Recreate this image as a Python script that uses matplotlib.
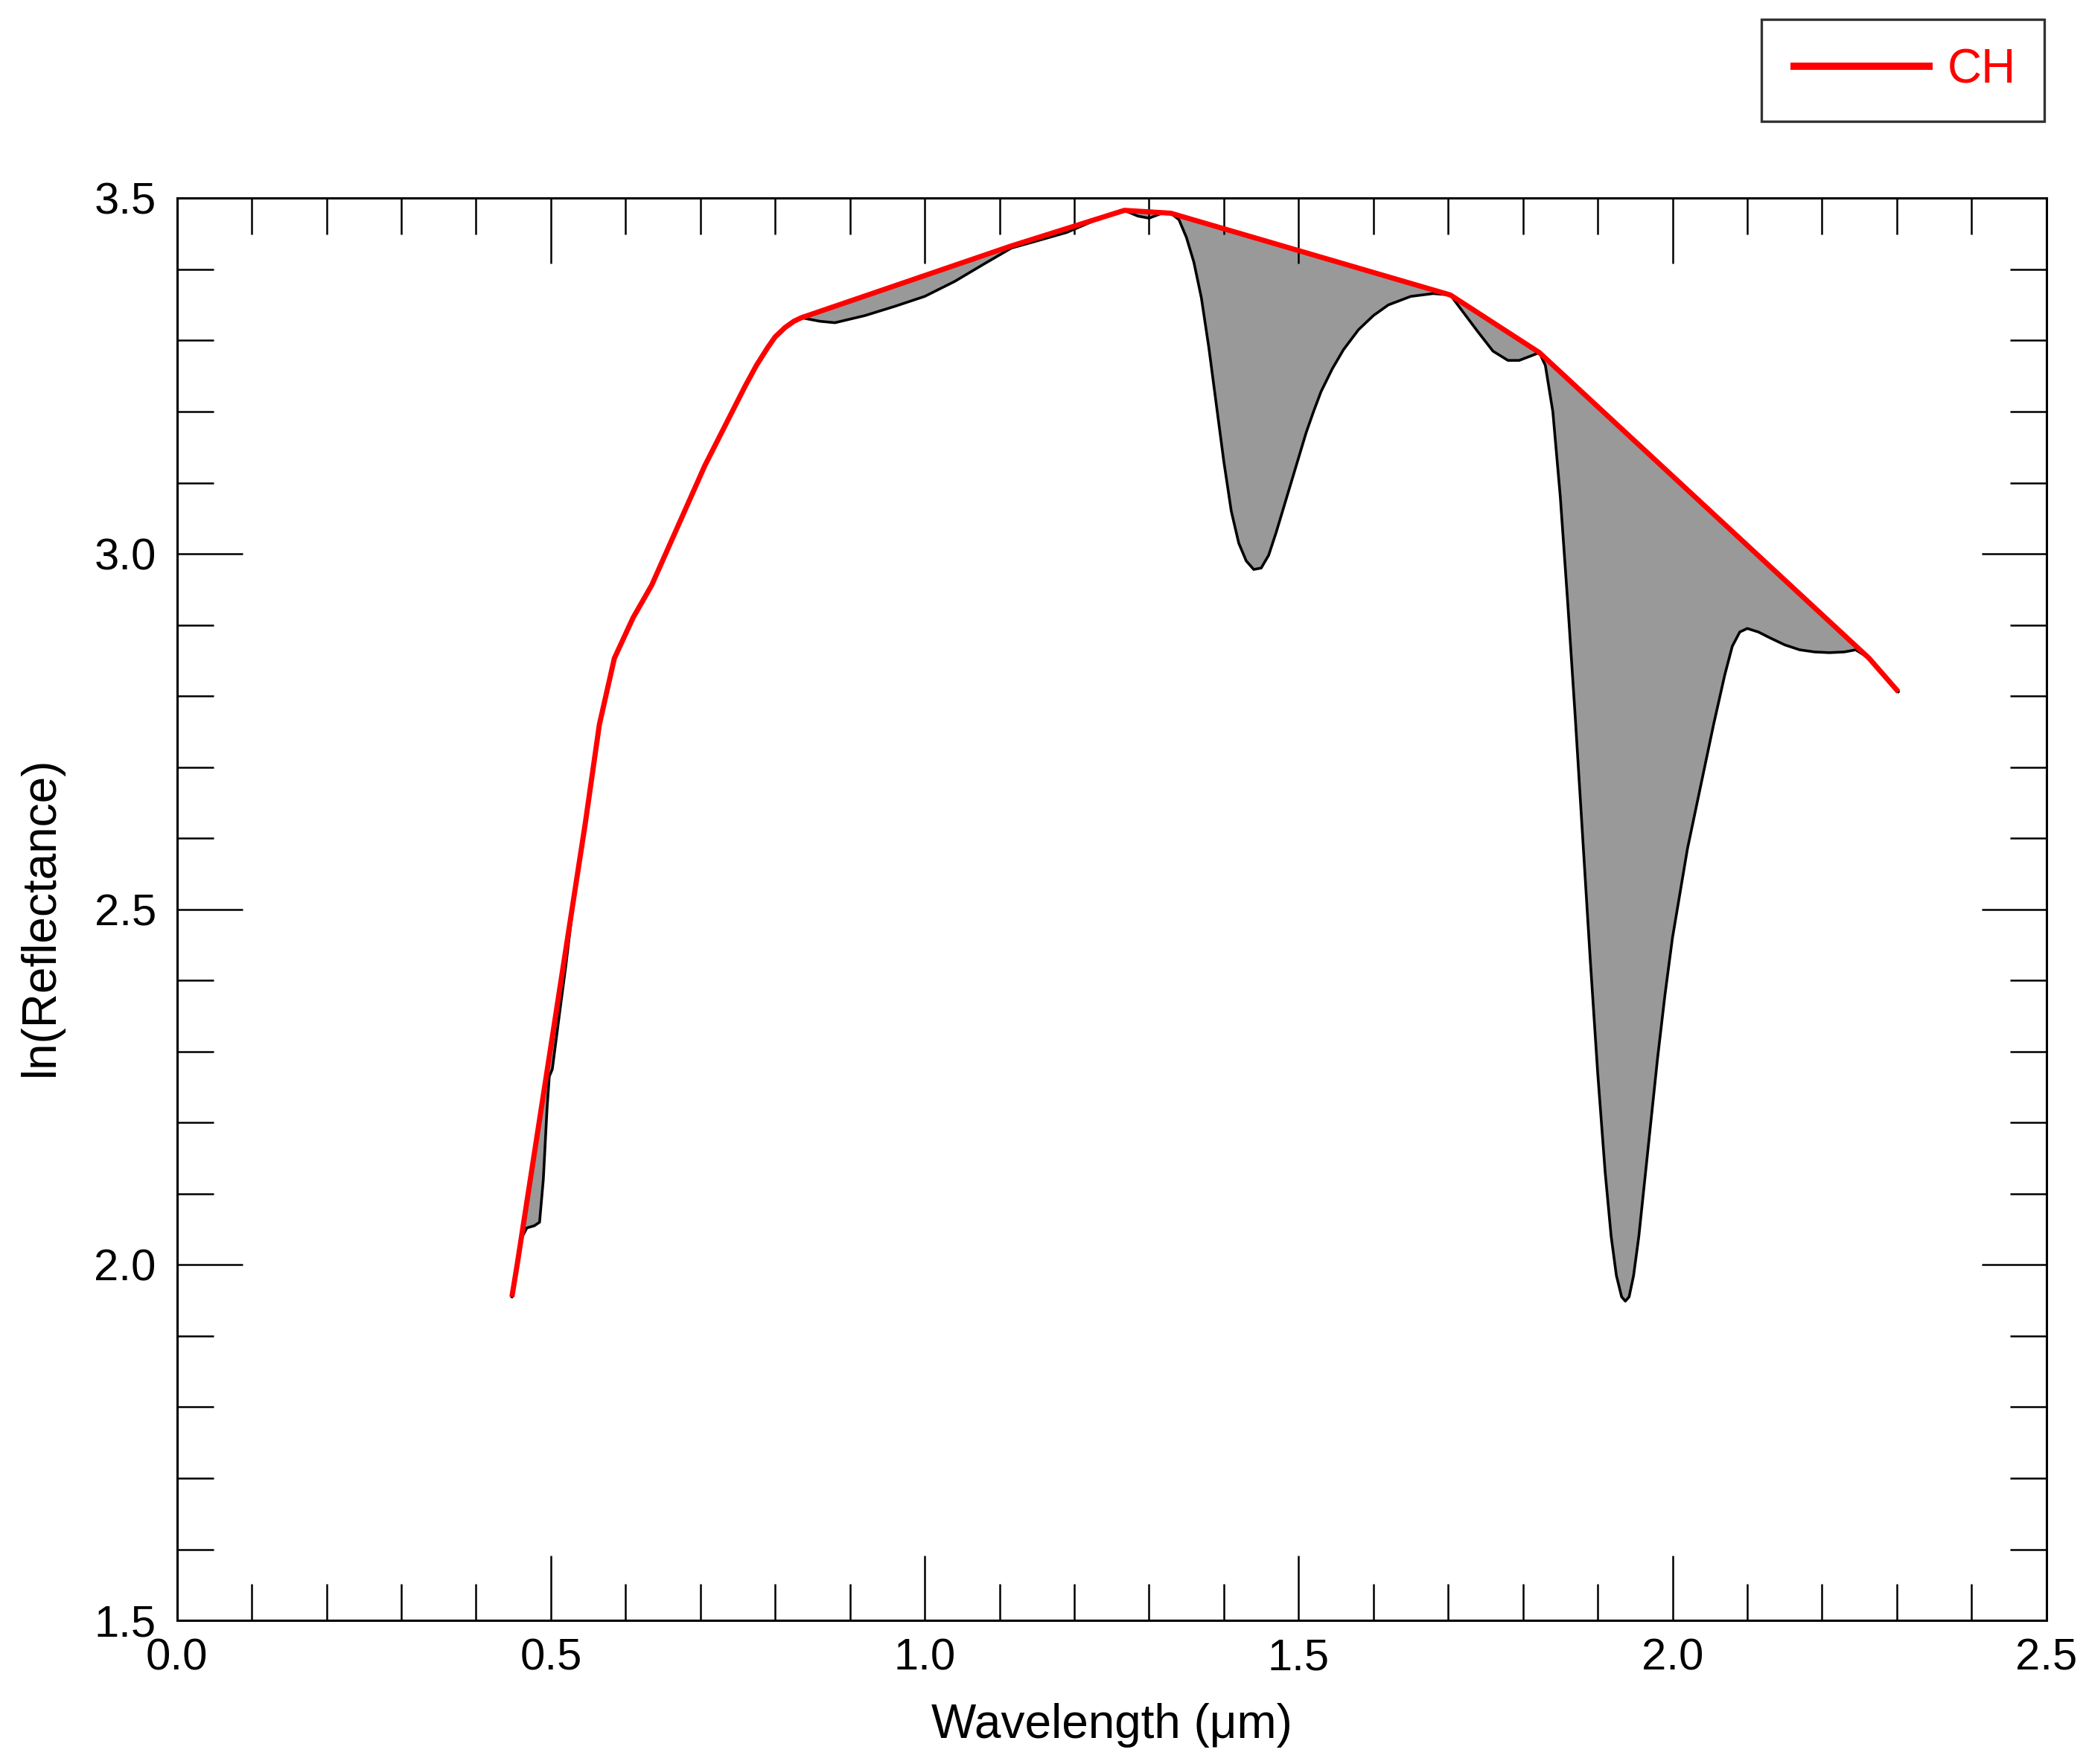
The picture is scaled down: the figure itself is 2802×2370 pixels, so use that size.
import matplotlib.pyplot as plt
import numpy as np

plt.rcParams['font.family'] = ['Liberation Sans', 'DejaVu Sans']

# continuum hull vertices (wavelength in um, ln reflectance)
hull_x = [0.448, 0.455, 0.546, 0.565, 0.585, 0.61, 0.635, 0.706, 0.76, 0.775,
          0.79, 0.80, 0.813, 0.825, 0.835, 1.116, 1.267, 1.329, 1.703, 1.822,
          2.263, 2.302]
hull_y = [1.955, 2.0, 2.62, 2.76, 2.853, 2.91, 2.956, 3.124, 3.236, 3.265,
          3.29, 3.305, 3.318, 3.327, 3.332, 3.433, 3.483, 3.479, 3.364, 3.283,
          2.853, 2.806]

# spectrum
spec_x = [0.448, 0.455, 0.462, 0.468, 0.478, 0.485, 0.49, 0.495, 0.498, 0.502,
          0.51, 0.52, 0.535, 0.546, 0.565, 0.585, 0.61, 0.635, 0.706, 0.76,
          0.775, 0.79, 0.80, 0.813, 0.825, 0.835, 0.86, 0.88, 0.92, 0.96,
          1.0, 1.04, 1.08, 1.116, 1.15, 1.19, 1.23, 1.267, 1.285, 1.30,
          1.315, 1.329, 1.34, 1.35, 1.36, 1.37, 1.38, 1.39, 1.40, 1.41,
          1.42, 1.43, 1.44, 1.45, 1.46, 1.47, 1.48, 1.49, 1.50, 1.51,
          1.52, 1.53, 1.545, 1.56, 1.58, 1.60, 1.62, 1.65, 1.68, 1.703,
          1.72, 1.74, 1.76, 1.78, 1.795, 1.81, 1.822, 1.83, 1.84, 1.85,
          1.86, 1.87, 1.88, 1.89, 1.90, 1.91, 1.918, 1.925, 1.932, 1.937,
          1.942, 1.948, 1.955, 1.962, 1.97, 1.98, 1.99, 2.0, 2.02, 2.04,
          2.055, 2.07, 2.08, 2.09, 2.10, 2.115, 2.13, 2.15, 2.17, 2.19,
          2.21, 2.23, 2.245, 2.263, 2.302]
spec_y = [1.955, 2.0, 2.04, 2.052, 2.055, 2.06, 2.12, 2.22, 2.265, 2.275,
          2.34, 2.42, 2.55, 2.62, 2.76, 2.853, 2.91, 2.956, 3.124, 3.236,
          3.265, 3.29, 3.305, 3.318, 3.327, 3.332, 3.327, 3.325, 3.335, 3.348,
          3.362, 3.383, 3.408, 3.43, 3.44, 3.452, 3.47, 3.483, 3.475, 3.472,
          3.478, 3.479, 3.47, 3.445, 3.41, 3.36, 3.29, 3.21, 3.13, 3.06,
          3.015, 2.99, 2.978, 2.98, 2.998, 3.03, 3.065, 3.10, 3.135, 3.17,
          3.2, 3.228, 3.26, 3.287, 3.315, 3.335, 3.35, 3.362, 3.366, 3.364,
          3.34, 3.312, 3.285, 3.272, 3.272, 3.278, 3.283, 3.265, 3.2, 3.08,
          2.93, 2.77, 2.6, 2.43, 2.27, 2.13, 2.04, 1.985, 1.955, 1.949,
          1.955, 1.985, 2.04, 2.11, 2.19, 2.29, 2.38, 2.46, 2.585, 2.685,
          2.76, 2.83, 2.87, 2.89, 2.895, 2.89, 2.882, 2.872, 2.865, 2.862,
          2.861, 2.862, 2.865, 2.853, 2.806]

fig = plt.figure(figsize=(28.02, 23.70), dpi=100)
ax = fig.add_axes([0.0848, 0.0814, 0.981 - 0.0848, 0.8876 - 0.0814])

# gray area between hull and spectrum
poly_x = np.concatenate([hull_x, spec_x[::-1]])
poly_y = np.concatenate([hull_y, spec_y[::-1]])
ax.fill(poly_x, poly_y, color='#999999', lw=0)

ax.plot(spec_x, spec_y, color='black', lw=2.6)
ax.plot(hull_x, hull_y, color='red', lw=5, label='CH', solid_capstyle='butt')

ax.set_xlim(0, 2.5)
ax.set_ylim(1.5, 3.5)
ax.set_xticks(np.arange(0, 2.51, 0.5))
ax.set_yticks(np.arange(1.5, 3.51, 0.5))
ax.set_xticks(np.arange(0, 2.51, 0.1), minor=True)
ax.set_yticks(np.arange(1.5, 3.51, 0.1), minor=True)
ax.xaxis.set_major_formatter(plt.FormatStrFormatter('%.1f'))
ax.yaxis.set_major_formatter(plt.FormatStrFormatter('%.1f'))
ax.tick_params(which='both', direction='in', top=True, right=True, width=1.8)
ax.tick_params(which='major', length=63, labelsize=43)
ax.tick_params(axis='x', which='major', pad=17)
ax.tick_params(axis='y', which='major', pad=20)
ax.tick_params(which='minor', length=35)
for s in ax.spines.values():
    s.set_linewidth(2.2)

ax.set_xlabel('Wavelength (\u03bcm)', fontsize=46)
ax.set_ylabel('ln(Reflectance)', fontsize=46)
ax.xaxis.set_label_coords(0.5, -0.058)
ax.yaxis.set_label_coords(-0.061, 0.495)

leg = fig.legend(loc='upper right', bbox_to_anchor=(0.980, 0.989), fontsize=46,
                 frameon=True, fancybox=False, edgecolor='black', labelcolor='red',
                 handlelength=3.0, handletextpad=0.3, borderpad=0.6,
                 borderaxespad=0)
leg.get_frame().set_linewidth(2.4)
for h in leg.get_lines():
    h.set_linewidth(7)

fig.savefig('out.png', dpi=100)
